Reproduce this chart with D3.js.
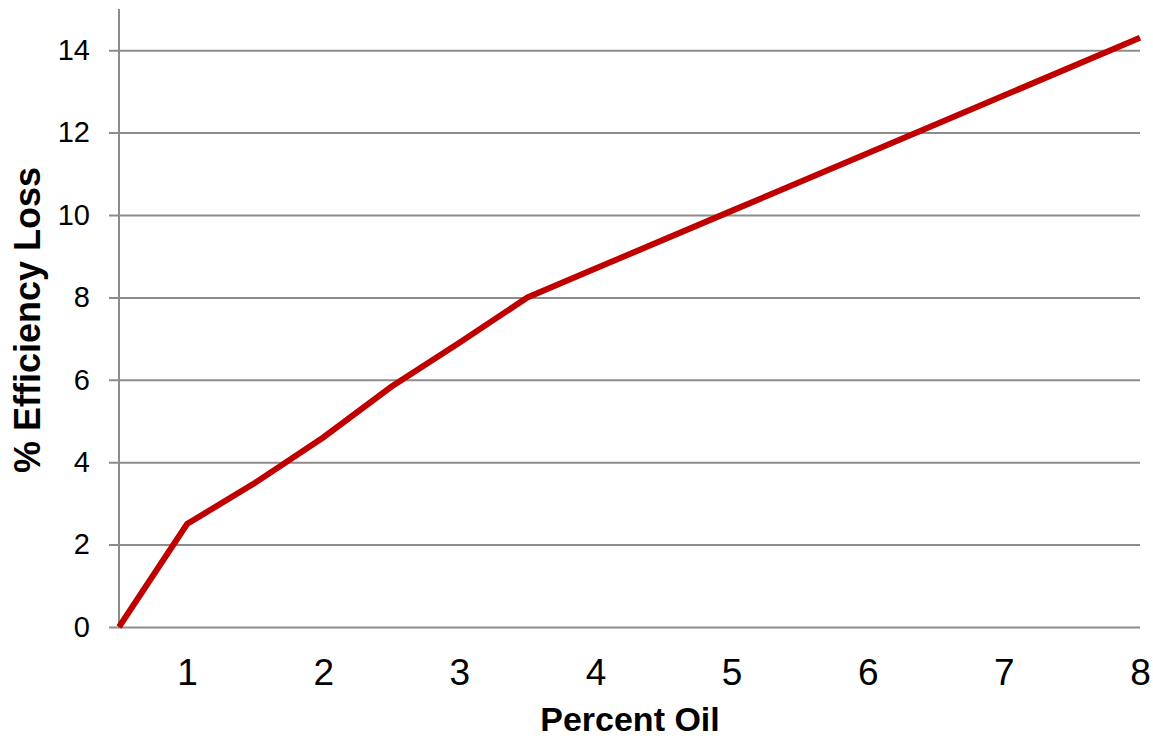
<!DOCTYPE html>
<html><head><meta charset="utf-8">
<script src="https://cdn.jsdelivr.net/npm/d3@7"></script>
<style>body{margin:0;background:#fff}svg{display:block}</style>
</head><body><svg id="c" width="1153" height="739"></svg>
<script>
const percentOil = [0.5, 1, 1.5, 2, 2.5, 3, 3.5, 4, 5, 6, 7, 8];
const efficiencyLoss = [0, 2.5, 3.5, 4.6, 5.83, 6.9, 8.0, 8.7, 10.1, 11.5, 12.9, 14.3];
const xTicks = [1, 2, 3, 4, 5, 6, 7, 8];
const yTicks = [0, 2, 4, 6, 8, 10, 12, 14];

const svg = d3.select('#c');
const L = 119, R = 1140, T = 9, B = 627;
const x = d3.scaleLinear().domain([0.5, 8]).range([L, R]);
const y = d3.scaleLinear().domain([0, 15]).range([B, T]);
const font = 'Liberation Sans, Arial, sans-serif';

// gridlines + y ticks
const yAxis = d3.axisLeft(y).tickValues(yTicks).tickSize(-(R - L)).tickSizeOuter(0).tickPadding(29);
const gy = svg.append('g').attr('transform', `translate(${L},0)`).call(yAxis);
gy.select('.domain').remove();
gy.selectAll('.tick line').attr('x1', -10).attr('stroke', '#8c8c8c').attr('stroke-width', 2);
gy.selectAll('.tick text').attr('font-family', font).attr('font-size', 29).attr('fill', '#000');

// y axis line
svg.append('line').attr('x1', L).attr('x2', L).attr('y1', T).attr('y2', B)
  .attr('stroke', '#8c8c8c').attr('stroke-width', 2);

// x tick labels
const xAxis = d3.axisBottom(x).tickValues(xTicks).tickSize(0).tickPadding(32);
const gx = svg.append('g').attr('transform', `translate(0,${B})`).call(xAxis);
gx.select('.domain').remove();
gx.selectAll('.tick text').attr('font-family', font).attr('font-size', 37).attr('fill', '#000');

// line
const line = d3.line().x((d, i) => x(percentOil[i])).y(d => y(d));
svg.append('path').datum(efficiencyLoss).attr('d', line)
  .attr('fill', 'none').attr('stroke', '#c00000').attr('stroke-width', 6)
  .attr('stroke-linejoin', 'miter');

// titles
svg.append('text').attr('x', 630).attr('y', 731).attr('text-anchor', 'middle')
  .attr('font-family', font).attr('font-size', 34).attr('font-weight', 'bold').text('Percent Oil');
svg.append('text').attr('transform', 'translate(40,320) rotate(-90)').attr('text-anchor', 'middle')
  .attr('font-family', font).attr('font-size', 36).attr('font-weight', 'bold').text('% Efficiency Loss');
</script></body></html>
